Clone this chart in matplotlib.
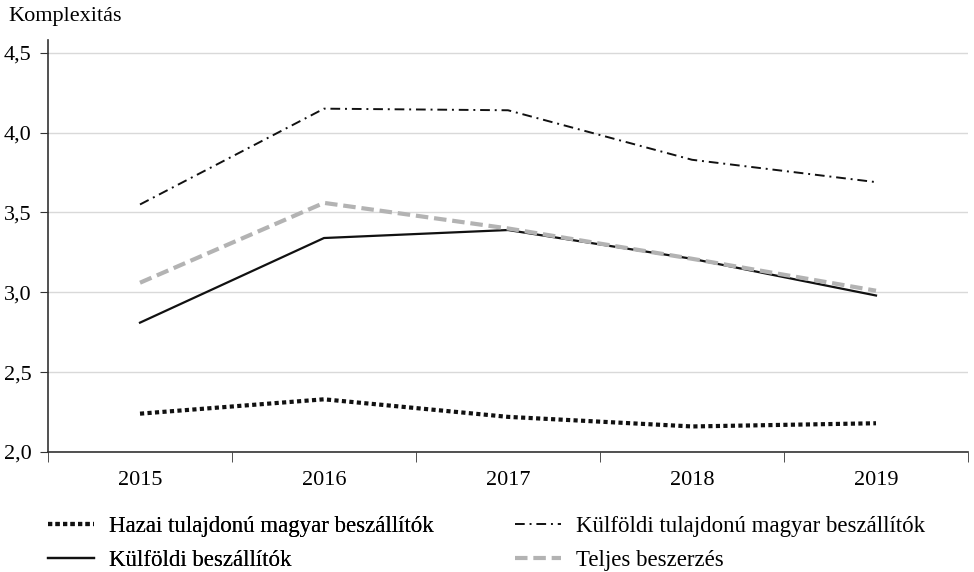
import matplotlib
matplotlib.use("Agg")
import matplotlib.pyplot as plt
from matplotlib.ticker import FixedLocator, FuncFormatter

plt.rcParams['font.family'] = ['Liberation Serif', 'DejaVu Serif']

# data
years = ['2015', '2016', '2017', '2018', '2019']
hazai = [2.24, 2.33, 2.22, 2.16, 2.18]
kulfoldi_tulaj = [3.55, 4.15, 4.14, 3.83, 3.69]
kulfoldi = [2.81, 3.34, 3.39, 3.21, 2.98]
teljes = [3.06, 3.56, 3.40, 3.21, 3.01]
labels = ['Hazai tulajdonú magyar beszállítók',
          'Külföldi tulajdonú magyar beszállítók',
          'Külföldi beszállítók',
          'Teljes beszerzés']

W, H = 974, 572
fig = plt.figure(figsize=(W / 100, H / 100), dpi=100)
ax = fig.add_axes([48 / W, 1 - 452 / H, 920 / W, 412 / H])

x = range(len(years))
l1, = ax.plot(x, hazai, color='#111111', lw=3.0, linestyle=(0, (1, 0.8)),
              dash_capstyle='butt')
l2, = ax.plot(x, kulfoldi_tulaj, color='#111111', lw=1.4,
              linestyle=(0, (5, 2.5, 1, 2.5)))
l3, = ax.plot(x, kulfoldi, color='#111111', lw=1.6)
l4, = ax.plot(x, teljes, color='#b3b3b3', lw=3.0, linestyle=(0, (3, 1.4)),
              dash_capstyle='butt')

ax.set_xlim(-0.5, 4.5)
ax.set_ylim(2.0, 4.58)
ax.set_xticks(list(x))
ax.set_xticklabels(years)
ax.xaxis.set_minor_locator(FixedLocator([-0.5, 0.5, 1.5, 2.5, 3.5, 4.5]))
ax.tick_params(axis='x', which='major', length=0, pad=14, labelsize=16)
ax.tick_params(axis='x', which='minor', length=7, color='#333333')
ax.set_yticks([2.0, 2.5, 3.0, 3.5, 4.0, 4.5])
ax.yaxis.set_major_formatter(FuncFormatter(lambda v, p: f'{v:.1f}'.replace('.', ',')))
ax.tick_params(axis='y', length=6, color='#333333', labelsize=16, pad=6)
ax.grid(axis='y', color='#d9d9d9', lw=1)
ax.set_axisbelow(True)
for s in ['top', 'right']:
    ax.spines[s].set_visible(False)
for s in ['left', 'bottom']:
    ax.spines[s].set_color('#333333')
    ax.spines[s].set_linewidth(1.2)

fig.text(8 / W, 1 - 17 / H, 'Komplexitás', fontsize=16, va='center', ha='left')

leg_kw = dict(loc='upper left', frameon=False, fontsize=16.5, handlelength=2.0,
              labelspacing=0.55, borderpad=0, borderaxespad=0, handletextpad=0.65)
leg1 = fig.legend([l1, l3], [labels[0], labels[2]],
                  bbox_to_anchor=(48 / W, 1 - 516 / H), **leg_kw)
fig.add_artist(leg1)
fig.legend([l2, l4], [labels[1], labels[3]],
           bbox_to_anchor=(515 / W, 1 - 516 / H), **leg_kw)

fig.savefig('out.png', dpi=100)
